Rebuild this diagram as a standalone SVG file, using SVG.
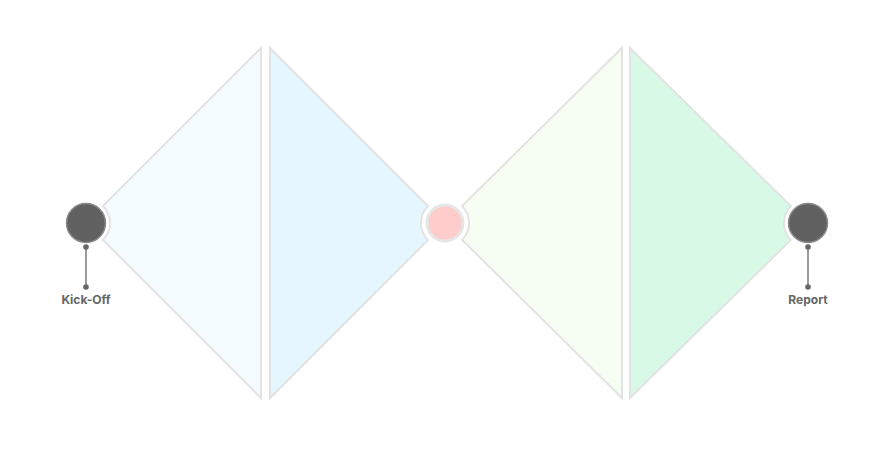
<svg xmlns="http://www.w3.org/2000/svg" width="882" height="449" viewBox="0 0 882 449">
<style>
.seg{stroke:#e3e3e3;stroke-width:2;stroke-linejoin:miter}
.end{fill:#616161;stroke:#8a8a8a;stroke-width:1.5}
.lbl{font-family:Inter,"Liberation Sans",sans-serif;font-size:12px;font-weight:700;fill:#666;text-anchor:middle}
.lead{stroke:#7a7a7a;stroke-width:1.5}
.dot{fill:#666}
</style>
<rect width="882" height="449" fill="#fff"/>
<g id="phase1"><path class="seg" fill="#f5fcff" d="M261,48 L261,398 L103,240 A24,24 0 0 0 103,206 Z"/></g>
<g id="phase2"><path class="seg" fill="#e6f6fe" d="M270,48 L428,206 A24,24 0 0 0 428,240 L270,398 Z"/></g>
<g id="phase3"><path class="seg" fill="#f6fdf3" d="M622,48 L622,398 L462.1,239.9 A24,24 0 0 0 462.1,206.1 Z"/></g>
<g id="phase4"><path class="seg" fill="#d8f9e6" d="M630,48 L790.9,206.1 A24,24 0 0 0 790.9,239.9 L630,398 Z"/></g>
<g id="kickoff">
<circle class="end" cx="86" cy="223" r="19.5"/>
<text class="lbl" x="86" y="304">Kick-Off</text>
</g>
<g id="milestone"><circle cx="445" cy="223" r="18" fill="#ffcccc" stroke="#e6e6e6" stroke-width="3"/></g>
<g id="report">
<circle class="end" cx="808" cy="223" r="19.5"/>
<text class="lbl" x="808" y="304">Report</text>
</g>
<g id="connectors">
<line class="lead" x1="86" y1="247" x2="86" y2="287"/>
<circle class="dot" cx="86" cy="247" r="2.8"/>
<circle class="dot" cx="86" cy="287" r="2.8"/>
<line class="lead" x1="808" y1="247" x2="808" y2="287"/>
<circle class="dot" cx="808" cy="247" r="2.8"/>
<circle class="dot" cx="808" cy="287" r="2.8"/>
</g>
</svg>
